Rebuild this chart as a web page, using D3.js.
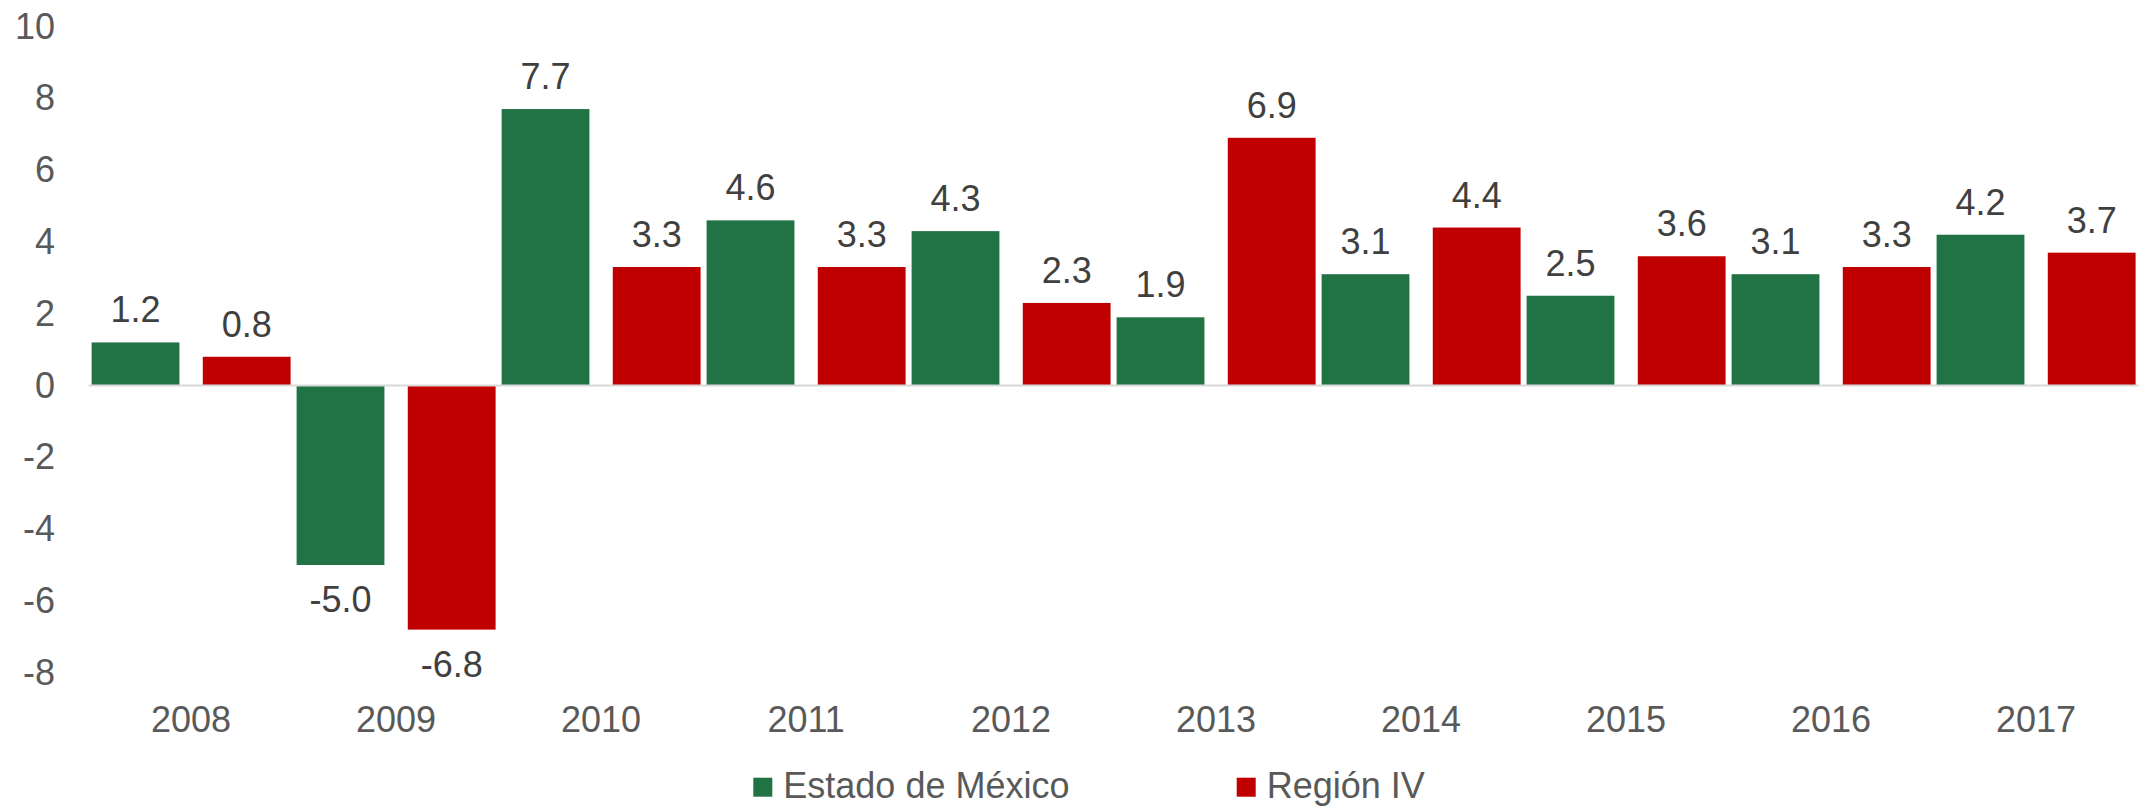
<!DOCTYPE html>
<html>
<head>
<meta charset="utf-8">
<script src="https://cdn.jsdelivr.net/npm/d3@7"></script>
<style>
  body { margin: 0; background: #fff; }
  text { font-family: "Liberation Sans", Arial, sans-serif; }
</style>
</head>
<body>
<div id="chart"></div>
<script>
// Data
var years = ["2008", "2009", "2010", "2011", "2012", "2013", "2014", "2015", "2016", "2017"];
var seriesNames = ["Estado de México", "Región IV"];
var estadoValues = [1.2, -5.0, 7.7, 4.6, 4.3, 1.9, 3.1, 2.5, 3.1, 4.2];
var regionValues = [0.8, -6.8, 3.3, 3.3, 2.3, 6.9, 4.4, 3.6, 3.3, 3.7];
var yTicks = [-8, -6, -4, -2, 0, 2, 4, 6, 8, 10];

var colors = {"Estado de México": "#217346", "Región IV": "#c00000"};

var width = 2144, height = 810;
var plotLeft = 88.6, plotRight = 2138.6, plotTop = 26.5, plotBottom = 672.7;

var svg = d3.select("#chart")
  .append("svg")
  .attr("width", width)
  .attr("height", height);

// Build rows from the arrays
var data = years.map(function (yr, i) {
  return {year: yr, values: [
    {name: seriesNames[0], value: estadoValues[i]},
    {name: seriesNames[1], value: regionValues[i]}
  ]};
});

// Scales
var x0 = d3.scaleBand()
  .domain(years)
  .range([plotLeft, plotRight])
  .padding(0);

var x1 = d3.scaleBand()
  .domain(seriesNames)
  .range([0, x0.bandwidth()])
  .paddingInner(0.21)
  .paddingOuter(0.027);

var y = d3.scaleLinear()
  .domain([-8, 10])
  .range([plotBottom, plotTop]);

// Y axis (labels only)
var yAxis = svg.append("g")
  .attr("transform", "translate(" + plotLeft + ",0)")
  .call(d3.axisLeft(y).tickValues(yTicks).tickSize(0).tickPadding(33.6).tickFormat(function (d) { return String(d); }));
yAxis.select(".domain").remove();
yAxis.selectAll("text")
  .style("font-size", "36px")
  .attr("fill", "#595959");

// X axis (labels only)
var xAxis = svg.append("g")
  .attr("transform", "translate(0," + plotBottom + ")")
  .call(d3.axisBottom(x0).tickSize(0).tickPadding(33.4));
xAxis.select(".domain").remove();
xAxis.selectAll("text")
  .style("font-size", "36px")
  .attr("fill", "#595959");

// Bars
var groups = svg.selectAll(".year")
  .data(data)
  .enter().append("g")
  .attr("class", "year")
  .attr("transform", function (d) { return "translate(" + x0(d.year) + ",0)"; });

groups.selectAll("rect")
  .data(function (d) { return d.values; })
  .enter().append("rect")
  .attr("x", function (d) { return x1(d.name); })
  .attr("y", function (d) { return y(Math.max(0, d.value)); })
  .attr("width", x1.bandwidth())
  .attr("height", function (d) { return Math.abs(y(d.value) - y(0)); })
  .attr("fill", function (d) { return colors[d.name]; });

// Value labels
groups.selectAll(".lbl")
  .data(function (d) { return d.values; })
  .enter().append("text")
  .attr("class", "lbl")
  .attr("x", function (d) { return x1(d.name) + x1.bandwidth() / 2; })
  .attr("y", function (d) { return d.value >= 0 ? y(d.value) - 20 : y(d.value) + 47; })
  .attr("text-anchor", "middle")
  .style("font-size", "36px")
  .attr("fill", "#404040")
  .text(function (d) { return d.value.toFixed(1); });

// Zero line
svg.append("line")
  .attr("x1", plotLeft)
  .attr("x2", plotRight)
  .attr("y1", y(0))
  .attr("y2", y(0))
  .attr("stroke", "#d9d9d9")
  .attr("stroke-width", 2);

// Legend
var legendX = [753.3, 1236.7];
var legend = svg.selectAll(".legend")
  .data(seriesNames)
  .enter().append("g")
  .attr("class", "legend")
  .attr("transform", function (d, i) { return "translate(" + legendX[i] + ",777.7)"; });
legend.append("rect")
  .attr("width", 19)
  .attr("height", 19)
  .attr("fill", function (d) { return colors[d]; });
legend.append("text")
  .attr("x", 30)
  .attr("y", 20.6)
  .style("font-size", "36px")
  .attr("fill", "#595959")
  .text(function (d) { return d; });
</script>
</body>
</html>
